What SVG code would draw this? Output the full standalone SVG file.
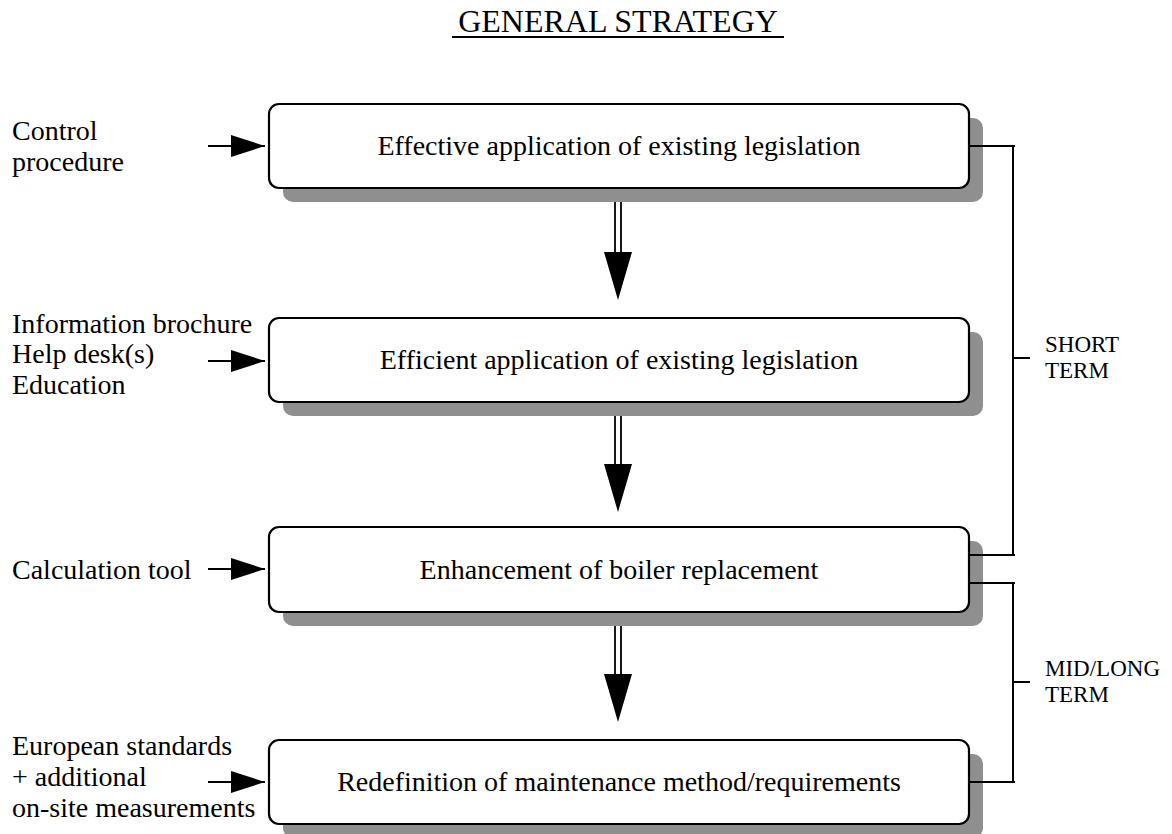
<svg xmlns="http://www.w3.org/2000/svg" width="1172" height="834" viewBox="0 0 1172 834">
<style>
text{font-family:"Liberation Serif","Times New Roman",serif;fill:#000}
.t{font-size:28px}
.bt{font-size:28px;text-anchor:middle}
.s{font-size:23px}
.box{fill:#fff;stroke:#000;stroke-width:2.2}
.sh{fill:#8f8f8f}
.ln{stroke:#000;stroke-width:2;fill:none}
.sl{stroke:#000;stroke-width:1.8;fill:none}
</style>
<defs>
<marker id="ah" markerWidth="34" markerHeight="22" refX="34" refY="11" orient="auto" markerUnits="userSpaceOnUse">
<path d="M0,0 L34,11 L0,22 Z" fill="#000"/>
</marker>
</defs>
<rect width="1172" height="834" fill="#fff"/>
<g id="title">
<text x="618" y="32" font-size="32" text-anchor="middle">GENERAL STRATEGY</text>
<line x1="452" y1="37" x2="784" y2="37" stroke="#000" stroke-width="2"/>
</g>
<g id="node1">
<rect class="sh" x="283" y="118" width="700" height="84" rx="10"/>
<rect class="box" x="269" y="104" width="700" height="84" rx="10"/>
<text class="bt" x="619" y="155">Effective application of existing legislation</text>
</g>
<g id="node2">
<rect class="sh" x="283" y="332" width="700" height="84" rx="10"/>
<rect class="box" x="269" y="318" width="700" height="84" rx="10"/>
<text class="bt" x="619" y="369">Efficient application of existing legislation</text>
</g>
<g id="node3">
<rect class="sh" x="283" y="541" width="700" height="85" rx="10"/>
<rect class="box" x="269" y="527" width="700" height="85" rx="10"/>
<text class="bt" x="619" y="579">Enhancement of boiler replacement</text>
</g>
<g id="node4">
<rect class="sh" x="283" y="754" width="700" height="84" rx="10"/>
<rect class="box" x="269" y="740" width="700" height="84" rx="10"/>
<text class="bt" x="619" y="791">Redefinition of maintenance method/requirements</text>
</g>
<g id="inputs">
<text class="t" x="12" y="140">Control</text>
<text class="t" x="12" y="171">procedure</text>
<text class="t" x="12" y="333">Information brochure</text>
<text class="t" x="12" y="363">Help desk(s)</text>
<text class="t" x="12" y="394">Education</text>
<text class="t" x="12" y="579">Calculation tool</text>
<text class="t" x="12" y="755">European standards</text>
<text class="t" x="12" y="786">+ additional</text>
<text class="t" x="12" y="817">on-site measurements</text>
</g>
<g id="terms">
<text class="s" x="1045" y="352">SHORT</text>
<text class="s" x="1045" y="378">TERM</text>
<text class="s" x="1045" y="676">MID/LONG</text>
<text class="s" x="1045" y="702">TERM</text>
</g>
<g id="connectors">
<line class="ln" x1="208" y1="146" x2="265" y2="146" marker-end="url(#ah)"/>
<line class="ln" x1="208" y1="361" x2="265" y2="361" marker-end="url(#ah)"/>
<line class="ln" x1="208" y1="569" x2="265" y2="569" marker-end="url(#ah)"/>
<line class="ln" x1="208" y1="782" x2="265" y2="782" marker-end="url(#ah)"/>
<path class="sl" d="M615,202 V254 M621,202 V254 M615,416 V466 M621,416 V466 M615,626 V676 M621,626 V676"/>
<path d="M604,252 L632,252 L618,300 Z M604,464 L632,464 L618,512 Z M604,674 L632,674 L618,722 Z" fill="#000"/>
<path class="ln" d="M969,146 H1015 M1013,146 V555 M969,555 H1015 M1013,358 H1030 M969,583 H1015 M1013,583 V782 M969,782 H1015 M1013,682 H1030"/>
</g>
</svg>
